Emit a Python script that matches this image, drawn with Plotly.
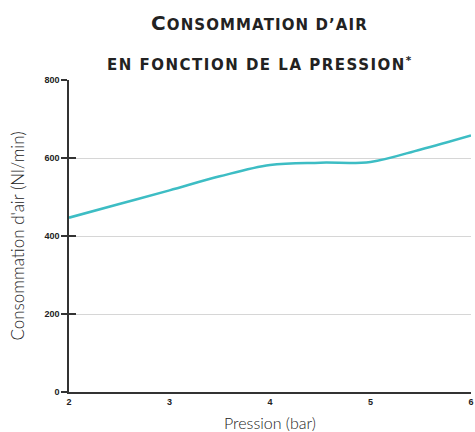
import plotly.graph_objects as go

pression = [2, 2.5, 3, 3.5, 4, 4.5, 5, 5.5, 6]
consommation = [447, 482, 517, 553, 582, 588, 590, 622, 658]
y_ticks = [0, 200, 400, 600, 800]
x_ticks = [2, 3, 4, 5, 6]
title_line1 = ("<span style='letter-spacing:1.1px'><span style='font-size:20px'>C</span>"
               "ONSOMMATION D’AIR</span>")
title_line2 = "<span style='letter-spacing:1.5px'>EN FONCTION DE LA PRESSION<sup>*</sup></span>"

fig = go.Figure()
fig.add_trace(go.Scatter(
    x=pression, y=consommation, mode="lines",
    line=dict(color="#3dbdc4", width=2.5, shape="spline", smoothing=1.0),
    hoverinfo="skip", showlegend=False, cliponaxis=False,
))
# invisible trace on overlay axis to draw inner tick halves
fig.add_trace(go.Scatter(x=[2], y=[0], yaxis="y2", mode="markers",
                         marker=dict(opacity=0), showlegend=False, hoverinfo="skip"))

title_font = dict(family="DejaVu Sans", size=15, color="#222222", weight="bold")
fig.add_annotation(text=title_line1, xref="paper", yref="paper", x=0.475, y=1.183,
                   xanchor="center", yanchor="middle", showarrow=False, font=title_font)
fig.add_annotation(text=title_line2, xref="paper", yref="paper", x=0.475, y=1.05,
                   xanchor="center", yanchor="middle", showarrow=False, font=title_font)

fig.update_layout(
    width=475, height=432,
    margin=dict(l=69, r=4, t=80, b=40),
    paper_bgcolor="white", plot_bgcolor="white",
    xaxis=dict(range=[2, 6], tickvals=x_ticks, showgrid=False, zeroline=False,
               showline=True, linecolor="#333333", linewidth=1.5, ticks="",
               automargin=False,
               tickfont=dict(family="Liberation Sans", size=9, color="#222222", weight="bold"),
               title=dict(text="Pression (bar)",
                          font=dict(family="Lato", size=16, color="#222222", weight=300))),
    yaxis=dict(range=[0, 800], tickvals=y_ticks, showgrid=True, gridcolor="#d6d6d6",
               gridwidth=1, zeroline=False, showline=True, linecolor="#333333",
               linewidth=1.5, ticks="outside", ticklen=6, tickcolor="#333333", tickwidth=1.5,
               automargin=False,
               tickfont=dict(family="Liberation Sans", size=9, color="#222222", weight="bold"),
               title=dict(text="Consommation d'air (Nl/min)",
                          font=dict(family="Lato", size=17, color="#222222", weight=300))),
    yaxis2=dict(range=[0, 800], tickvals=y_ticks, overlaying="y", side="left",
                showgrid=False, zeroline=False, showline=False, ticks="inside",
                automargin=False,
                ticklen=7, tickcolor="#333333", tickwidth=1.5, showticklabels=False),
)

fig.write_html("out.html", config={"displayModeBar": False},
               post_script="document.body.style.margin='0';document.body.style.overflow='hidden';")
